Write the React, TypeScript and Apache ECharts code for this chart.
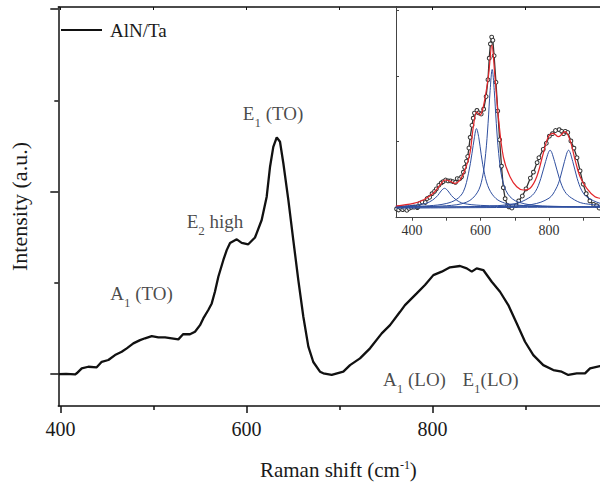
import React, { useEffect, useRef } from 'react';
import * as echarts from 'echarts';

const FONT = '"Liberation Serif", "Times New Roman", serif';

// Main spectrum (AlN/Ta), Raman shift (cm-1) vs intensity (a.u.)
const ramanShift = [398, 406, 415.6, 417.4, 422.8, 429.9, 438.9, 444.3, 451.4, 458.6, 465.8, 471.2, 478.3, 485.5, 490.9, 498.1, 505.2, 512.4, 519.6, 526.7, 532, 539.2, 544.6, 550, 553.5, 558.9, 562.6, 566.1, 569.7, 575.1, 578.7, 582.3, 589.5, 594.8, 601.9, 609.1, 616.3, 621.7, 625.3, 628.8, 632.5, 636, 639.6, 645, 650.3, 655.7, 661.1, 666.5, 671.8, 679, 682.6, 691.6, 704.1, 711.3, 722, 732.8, 745.4, 754.3, 765.1, 770.4, 783, 791.9, 800.9, 809.9, 818.8, 829.6, 836.8, 842.2, 847.5, 854.6, 863.7, 872.6, 881.5, 890.5, 899.5, 908.4, 919.1, 929.9, 938.9, 946, 955.1, 964, 969.4, 980.1, 990, 1000];
const intensity = [0, 0.001, -0.002, 0.004, 0.031, 0.04, 0.037, 0.067, 0.077, 0.104, 0.122, 0.141, 0.168, 0.186, 0.196, 0.208, 0.201, 0.201, 0.196, 0.19, 0.219, 0.218, 0.232, 0.268, 0.305, 0.351, 0.387, 0.452, 0.533, 0.625, 0.679, 0.718, 0.738, 0.719, 0.711, 0.748, 0.844, 0.972, 1.136, 1.245, 1.297, 1.273, 1.155, 0.953, 0.734, 0.515, 0.314, 0.15, 0.066, 0.013, 0.004, -0.005, 0.013, 0.049, 0.086, 0.141, 0.223, 0.268, 0.341, 0.378, 0.442, 0.488, 0.542, 0.561, 0.585, 0.592, 0.579, 0.561, 0.579, 0.57, 0.506, 0.451, 0.378, 0.278, 0.177, 0.104, 0.049, 0.022, 0.013, -0.005, 0.004, 0.004, 0.031, 0.044, 0.05, 0.055];

// Extra low-wavenumber points visible only in the inset
const insetShiftPre = [355, 361, 367, 373, 379, 385, 391];
const insetIntensityPre = [-0.012, -0.02, -0.006, -0.018, -0.01, -0.022, -0.008];

// Cumulative fit (red)
const fitShift = [353, 404, 433, 462, 482, 496, 511, 525.5, 540, 554.7, 569, 579, 589, 598.5, 608, 622.8, 633, 642, 652, 666.6, 686, 705.7, 725, 744.5, 764, 783, 798, 812.6, 827, 846.7, 861, 876, 890.5, 910, 934, 949, 975, 1000];
const fitIntensity = [0.01, 0.03, 0.056, 0.107, 0.17, 0.208, 0.2, 0.183, 0.208, 0.284, 0.41, 0.614, 0.728, 0.703, 0.766, 0.995, 1.236, 0.995, 0.69, 0.385, 0.233, 0.157, 0.132, 0.145, 0.233, 0.41, 0.538, 0.564, 0.538, 0.576, 0.512, 0.36, 0.233, 0.145, 0.08, 0.069, 0.055, 0.045];

// Fitted component peaks (blue)
const peak495Shift = [353, 400, 440, 460, 475, 485, 495, 505, 515, 530, 550, 600, 700, 850, 1000];
const peak495Value = [0.01, 0.015, 0.03, 0.055, 0.09, 0.125, 0.145, 0.125, 0.09, 0.055, 0.03, 0.015, 0.008, 0.004, 0.003];
const peak588Shift = [353, 450, 500, 530, 550, 565, 575, 582, 588, 595, 602, 612, 625, 645, 670, 700, 800, 1000];
const peak588Value = [0.004, 0.012, 0.029, 0.061, 0.12, 0.26, 0.41, 0.53, 0.6, 0.53, 0.4, 0.25, 0.14, 0.067, 0.033, 0.019, 0.005, 0.001];
const peak634Shift = [353, 500, 560, 590, 605, 615, 622, 628, 634, 640, 646, 653, 663, 680, 710, 780, 1000];
const peak634Value = [0.003, 0.012, 0.04, 0.11, 0.22, 0.41, 0.64, 0.89, 1.05, 0.89, 0.64, 0.41, 0.22, 0.1, 0.04, 0.011, 0.002];
const peak803Shift = [353, 600, 700, 740, 760, 776, 790, 803, 816, 830, 846, 866, 900, 1000];
const peak803Value = [0.002, 0.007, 0.028, 0.07, 0.12, 0.22, 0.35, 0.435, 0.35, 0.22, 0.12, 0.07, 0.03, 0.008];
const peak857Shift = [353, 650, 750, 800, 820, 832, 845, 857, 869, 882, 895, 910, 950, 1000];
const peak857Value = [0.001, 0.006, 0.022, 0.07, 0.14, 0.22, 0.35, 0.435, 0.35, 0.22, 0.13, 0.08, 0.03, 0.012];
const baselineShift = [353, 1000];
const baselineValue = [-0.006, 0.004];

// Tick values
const mainMajorX = [400, 600, 800, 1000];
const mainMinorX = [500, 700, 900];
const mainLabelX = [400, 600, 800];
const mainTopX = [400, 500, 600, 700, 800, 900, 1000];
const mainMajorY = [0, 1, 2];
const mainMinorY = [0.5, 1.5];
const insetTickX = [400, 500, 600, 700, 800, 900, 1000];
const insetLabelX = [400, 600, 800];
const insetTickY = [0, 0.5, 1, 1.5];

// Peak annotations (data coordinates of text centres)
const annoShift = [487.1, 566.1, 628.5, 780.6, 862.4];
const annoValue = [0.441, 0.836, 1.425, -0.03, -0.03];
const annoText = ['A{sub|1} (TO)', 'E{sub|2} high', 'E{sub|1} (TO)', 'A{sub|1} (LO)', 'E{sub|1}(LO)'];

const zip = (xs: number[], ys: number[]) => xs.map((x, i) => [x, ys[i]]);

export default function App() {
  const ref = useRef<HTMLDivElement>(null);
  useEffect(() => {
    const chart = echarts.init(ref.current!, null, { renderer: 'svg' });
    const black = '#111';
    const text = '#1a1a1a';
    const insetAxis = '#444';
    const blue = '#2f4f9f';
    const mainData = zip(ramanShift, intensity);
    const insetData = zip(insetShiftPre, insetIntensityPre).concat(mainData);
    const blueSeries = [
      zip(peak495Shift, peak495Value),
      zip(peak588Shift, peak588Value),
      zip(peak634Shift, peak634Value),
      zip(peak803Shift, peak803Value),
      zip(peak857Shift, peak857Value),
      zip(baselineShift, baselineValue),
    ].map((d, i) => ({
      name: 'peak' + i,
      type: 'line',
      xAxisIndex: 3,
      yAxisIndex: 2,
      data: d,
      smooth: 0.35,
      symbol: 'none',
      lineStyle: { color: blue, width: 1 },
      z: 3,
    }));

    const option: any = {
      animation: false,
      backgroundColor: '#fff',
      textStyle: { fontFamily: FONT },
      legend: {
        data: ['AlN/Ta'],
        left: 56,
        top: 15.5,
        icon: 'rect',
        itemWidth: 41,
        itemHeight: 2,
        textStyle: { fontFamily: FONT, fontSize: 19, color: text, padding: [0, 0, 0, 3] },
      },
      grid: [
        { left: 58.3, top: 7, width: 560.2, height: 399, outerBoundsMode: 'none', containLabel: false },
        { left: 396, top: 7, width: 221.6, height: 210.7, outerBoundsMode: 'none', containLabel: false },
      ],
      xAxis: [
        {
          type: 'value', gridIndex: 0, position: 'bottom', min: 397.6, max: 1000,
          axisLine: { onZero: false, lineStyle: { color: black, width: 1.5 } },
          axisTick: { customValues: mainMajorX, length: 7, inside: false, lineStyle: { color: black, width: 1.5 } },
          axisLabel: { customValues: mainLabelX, fontFamily: FONT, fontSize: 20, color: text, margin: 13 },
          splitLine: { show: false },
          name: 'Raman shift (cm{sup|-1})',
          nameLocation: 'middle',
          nameGap: 53,
          nameTextStyle: {
            fontFamily: FONT, fontSize: 21, lineHeight: 21, color: text,
            rich: { sup: { fontFamily: FONT, fontSize: 12, lineHeight: 12, verticalAlign: 'top', color: text } },
          },
        },
        {
          type: 'value', gridIndex: 0, position: 'bottom', min: 397.6, max: 1000,
          axisLine: { show: false, onZero: false },
          axisTick: { customValues: mainMinorX, length: 4, inside: false, lineStyle: { color: black, width: 1.5 } },
          axisLabel: { show: false },
          splitLine: { show: false },
        },
        {
          type: 'value', gridIndex: 0, position: 'top', min: 397.6, max: 1000,
          axisLine: { onZero: false, lineStyle: { color: black, width: 1.5 } },
          axisTick: { customValues: mainTopX, length: 3, inside: true, lineStyle: { color: black, width: 1 } },
          axisLabel: { show: false },
          splitLine: { show: false },
        },
        {
          type: 'value', gridIndex: 1, position: 'bottom', min: 353.3, max: 1000,
          axisLine: { onZero: false, lineStyle: { color: insetAxis, width: 1 } },
          axisTick: { customValues: insetTickX, length: 3, inside: false, lineStyle: { color: insetAxis, width: 1 } },
          axisLabel: { customValues: insetLabelX, fontFamily: FONT, fontSize: 14, color: '#333', margin: 6 },
          splitLine: { show: false },
        },
        {
          type: 'value', gridIndex: 1, position: 'top', min: 353.3, max: 1000,
          axisLine: { onZero: false, lineStyle: { color: insetAxis, width: 1 } },
          axisTick: { show: false },
          axisLabel: { show: false },
          splitLine: { show: false },
        },
      ],
      yAxis: [
        {
          type: 'value', gridIndex: 0, position: 'left', min: -0.175, max: 2.011,
          axisLine: { onZero: false, lineStyle: { color: black, width: 1.5 } },
          axisTick: { customValues: mainMajorY, length: 8, inside: false, lineStyle: { color: black, width: 1.5 } },
          axisLabel: { show: false },
          splitLine: { show: false },
          name: 'Intensity (a.u.)',
          nameLocation: 'middle',
          nameGap: 28.3,
          nameTextStyle: { fontFamily: FONT, fontSize: 22, color: text },
        },
        {
          type: 'value', gridIndex: 0, position: 'left', min: -0.175, max: 2.011,
          axisLine: { show: false, onZero: false },
          axisTick: { customValues: mainMinorY, length: 4, inside: false, lineStyle: { color: black, width: 1.5 } },
          axisLabel: { show: false },
          splitLine: { show: false },
        },
        {
          type: 'value', gridIndex: 1, position: 'left', min: -0.079, max: 1.526,
          axisLine: { onZero: false, lineStyle: { color: insetAxis, width: 1 } },
          axisTick: { customValues: insetTickY, length: 3, inside: true, lineStyle: { color: insetAxis, width: 1 } },
          axisLabel: { show: false },
          splitLine: { show: false },
        },
        {
          type: 'value', gridIndex: 1, position: 'right', min: -0.079, max: 1.526,
          axisLine: { onZero: false, lineStyle: { color: insetAxis, width: 1 } },
          axisTick: { show: false },
          axisLabel: { show: false },
          splitLine: { show: false },
        },
      ],
      series: [
        {
          name: 'AlN/Ta',
          type: 'line',
          xAxisIndex: 0,
          yAxisIndex: 0,
          data: mainData,
          symbol: 'none',
          lineStyle: { color: black, width: 2.3 },
          itemStyle: { color: black },
          z: 3,
        },
        {
          name: 'annotations',
          type: 'scatter',
          xAxisIndex: 0,
          yAxisIndex: 0,
          symbolSize: 1,
          itemStyle: { color: 'rgba(0,0,0,0)' },
          data: annoShift.map((x, i) => ({ value: [x, annoValue[i]], label: { formatter: annoText[i] } })),
          label: {
            show: true,
            position: 'inside',
            align: 'center',
            verticalAlign: 'middle',
            fontFamily: FONT,
            fontSize: 19,
            color: text,
            rich: { sub: { fontFamily: FONT, fontSize: 13, color: text, padding: [18, 0, 0, 0] } },
          },
          z: 5,
        },
        {
          name: 'data',
          type: 'line',
          xAxisIndex: 3,
          yAxisIndex: 2,
          data: insetData,
          symbol: 'circle',
          symbolSize: 3.8,
          showSymbol: true,
          itemStyle: { color: '#fff', borderColor: '#333', borderWidth: 1 },
          lineStyle: { color: '#333', width: 1.3 },
          z: 2,
        },
        ...blueSeries,
        {
          name: 'fit',
          type: 'line',
          xAxisIndex: 3,
          yAxisIndex: 2,
          data: zip(fitShift, fitIntensity),
          smooth: 0.35,
          symbol: 'none',
          lineStyle: { color: '#e3262b', width: 1.2 },
          z: 4,
        },
      ],
    };
    chart.setOption(option);
    return () => chart.dispose();
  }, []);
  return (
    <div style={{ position: 'fixed', left: 0, top: 0, width: 600, height: 482, overflow: 'hidden', background: '#fff' }}>
      <div ref={ref} style={{ width: 640, height: 482 }} />
    </div>
  );
}
